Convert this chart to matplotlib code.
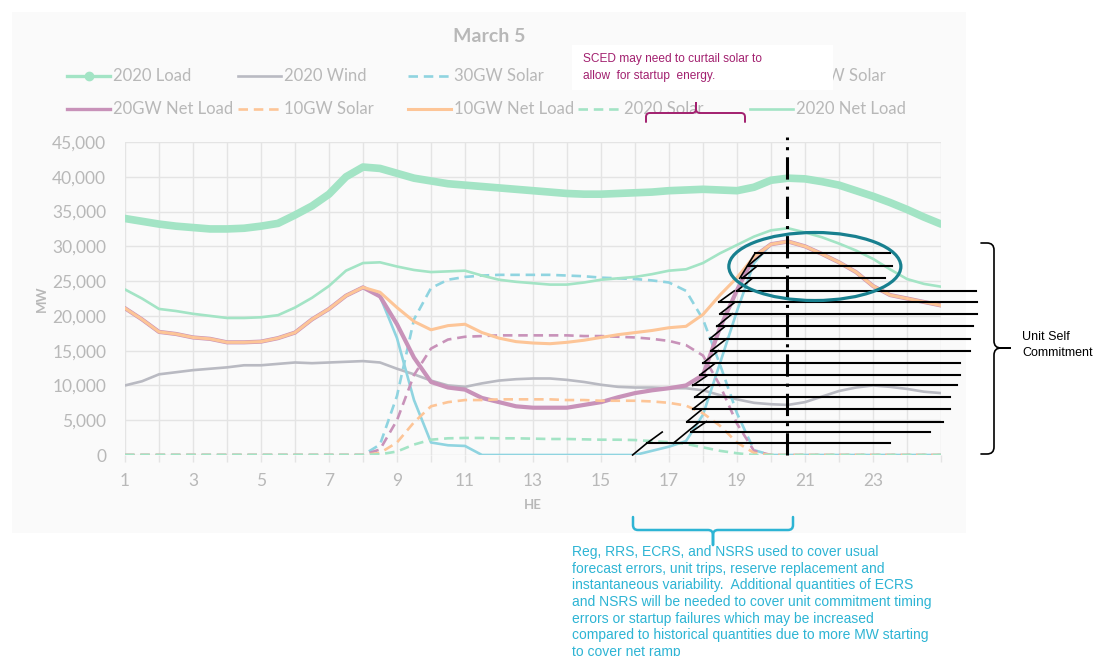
import numpy as np
import matplotlib
matplotlib.use("Agg")
import matplotlib.pyplot as plt
from matplotlib.lines import Line2D
from matplotlib.patches import Ellipse, Rectangle, PathPatch
from matplotlib.path import Path
from matplotlib.transforms import Affine2D
from matplotlib.ticker import FuncFormatter

# ------------------------------------------------------------
# Datos (MW cada media hora, HE 1..25)
# ------------------------------------------------------------
horas = np.arange(1, 25.01, 0.5)

load_2020 = [34000, 33600, 33200, 32900, 32700, 32500, 32500, 32600, 32900, 33300,
             34500, 35800, 37500, 40000, 41400, 41200, 40500, 39800, 39400, 39000,
             38800, 38600, 38400, 38200, 38000, 37800, 37600, 37500, 37500, 37600,
             37700, 37800, 38000, 38100, 38200, 38100, 38000, 38500, 39500, 39800,
             39700, 39300, 38800, 38000, 37200, 36300, 35300, 34200, 33200]

wind_2020 = [10000, 10600, 11600, 11900, 12200, 12400, 12600, 12900, 12900, 13100,
             13300, 13200, 13300, 13400, 13500, 13300, 12400, 11600, 10700, 10000,
             9800, 10300, 10700, 10900, 11000, 11000, 10800, 10500, 10100, 9800,
             9700, 9700, 9600, 9600, 9300, 8600, 8000, 7500, 7300, 7200,
             7600, 8400, 9200, 9700, 10000, 9800, 9500, 9100, 8900]

solar_30gw = [0] * 15 + [1500, 8500, 19500, 24000, 25200, 25600, 25800, 25900, 25900, 25900,
                         25900, 25800, 25700, 25500, 25400, 25300, 25100, 24800, 23600, 19500,
                         13000, 6000, 700] + [0] * 11

net_30gw = [21100, 19500, 17700, 17400, 16900, 16700, 16200, 16200, 16300, 16800,
            17600, 19500, 21000, 22900, 24100, 22800, 16800, 7900, 1800, 1400,
            1300, 0, 0, 0, 0, 0, 0, 0, 0, 0,
            0, 600, 1200, 2000, 5800, 13200, 20700, 27600, 30300, 30700,
            30000, 28900, 27700, 26300, 24300, 23000, 22500, 22000, 21500]

solar_20gw = [0] * 15 + [800, 5000, 11500, 15300, 16600, 17000, 17100, 17200, 17200, 17200,
                         17200, 17200, 17100, 17100, 17000, 16900, 16700, 16400, 15800, 14300,
                         10000, 4500, 600] + [0] * 11

net_20gw = [21100, 19500, 17700, 17400, 16900, 16700, 16200, 16200, 16300, 16800,
            17600, 19500, 21000, 22900, 24100, 22800, 18800, 14000, 10500, 9700,
            9400, 8200, 7600, 7000, 6800, 6800, 6800, 7200, 7600, 8300,
            8900, 9300, 9600, 10000, 11500, 18300, 23700, 28500, 30300, 30700,
            30000, 28900, 27700, 26300, 24300, 23000, 22500, 22000, 21500]

solar_10gw = [0] * 15 + [300, 1800, 4700, 7000, 7600, 7900, 7900, 8000, 8000, 8000,
                         8000, 7900, 7900, 7800, 7800, 7800, 7700, 7500, 7100, 6000,
                         4200, 1800, 300] + [0] * 11

net_10gw = [21100, 19500, 17700, 17400, 16900, 16700, 16200, 16200, 16300, 16800,
            17600, 19500, 21000, 22900, 24100, 23400, 21200, 19200, 18000, 18600,
            18800, 17600, 16800, 16300, 16100, 16000, 16200, 16500, 16900, 17300,
            17600, 17900, 18300, 18500, 20200, 23000, 25500, 28500, 30300, 30700,
            30000, 28900, 27700, 26300, 24300, 23000, 22500, 22000, 21500]

solar_2020 = [0] * 15 + [100, 500, 1500, 2200, 2400, 2450, 2450, 2400, 2400, 2350,
                         2300, 2300, 2250, 2200, 2200, 2150, 2000, 1850, 1600, 1100,
                         600, 250, 0] + [0] * 11

net_2020 = [23800, 22500, 21000, 20700, 20300, 20000, 19700, 19700, 19800, 20100,
            21200, 22600, 24300, 26500, 27600, 27700, 27100, 26600, 26300, 26400,
            26500, 25800, 25200, 24900, 24700, 24500, 24500, 24800, 25200, 25400,
            25600, 26000, 26500, 26700, 27600, 29000, 30200, 31400, 32300, 32600,
            32000, 31300, 30400, 29400, 28200, 26700, 25300, 24600, 24200]

# Bloques de auto-compromiso (nivel MW, hora inicio, hora fin)
commit_mw = [29000, 27200, 25400, 23600, 22000, 20300, 18500, 16700, 15000,
             13200, 11500, 10000, 8300, 6600, 4800, 3300, 1700]
commit_ini = [19.53, 19.32, 19.15, 19.0, 18.47, 18.5, 18.41, 18.2, 18.24,
              18.0, 17.91, 17.7, 17.76, 17.7, 17.53, 17.65, 16.35]
commit_fin = [23.5, 23.56, 23.35, 26.03, 26.06, 26.06, 25.94, 25.85, 25.85,
              25.56, 25.56, 25.47, 25.26, 25.26, 25.06, 24.68, 23.5]

hora_pico = 20.47

# ------------------------------------------------------------
# Estilos
# ------------------------------------------------------------
verde = "#a3e4c5"
gris_linea = "#b9bac2"
azul = "#8fd4e0"
morado = "#c892b9"
naranja = "#fdc597"
gris_txt = "#b8b8b8"
guion = (0, (3.6, 2.2))

plt.rcParams["font.family"] = ["Lato", "DejaVu Sans"]

W, H = 1099, 656
fig = plt.figure(figsize=(W / 100, H / 100), dpi=100)
fig.patch.set_facecolor("white")
pix = Affine2D().scale(1 / W, -1 / H).translate(0, 1) + fig.transFigure

fig.add_artist(Rectangle((12, 12), 954, 521, transform=pix,
                         facecolor="#fafafa", edgecolor="none", zorder=-1))

ax = fig.add_axes([125 / W, 1 - 455 / H, 816 / W, 313 / H])
ax.patch.set_alpha(0)

series = [
    ("2020 Load", load_2020, verde, "-", 5.5),
    ("2020 Wind", wind_2020, gris_linea, "-", 1.9),
    ("30GW Solar", solar_30gw, azul, guion, 1.9),
    ("30GW Net Load", net_30gw, azul, "-", 1.9),
    ("20GW Solar", solar_20gw, morado, guion, 1.9),
    ("20GW Net Load", net_20gw, morado, "-", 3.0),
    ("10GW Solar", solar_10gw, naranja, guion, 1.9),
    ("10GW Net Load", net_10gw, naranja, "-", 2.2),
    ("2020 Solar", solar_2020, verde, guion, 1.9),
    ("2020 Net Load", net_2020, verde, "-", 1.9),
]

for nombre, valores, color, estilo, grosor in series:
    ax.plot(horas, valores, color=color, linestyle=estilo, lw=grosor,
            solid_capstyle="round", solid_joinstyle="round")

ax.set_xlim(1, 25)
ax.set_ylim(0, 45000)
ax.set_xticks(range(1, 24, 2))
ax.set_xticks(list(range(2, 25, 2)) + [25], minor=True)
ax.set_yticks(range(0, 45001, 5000))
ax.yaxis.set_major_formatter(FuncFormatter(lambda v, p: f"{int(v):,}"))
ax.grid(True, which="both", axis="x", color="#e4e4e4", lw=1)
ax.grid(True, which="major", axis="y", color="#e4e4e4", lw=1)
ax.set_axisbelow(True)
for s in ax.spines.values():
    s.set_visible(False)
ax.tick_params(axis="x", which="both", length=5, width=1, color="#e4e4e4",
               pad=8, labelsize=12.5, labelcolor=gris_txt)
ax.tick_params(axis="y", length=0, pad=13.5, labelsize=12.5, labelcolor=gris_txt)

ax.text(0.5, -0.16, "HE", transform=ax.transAxes, ha="center", va="center",
        fontsize=9.5, fontweight="bold", color=gris_txt)
ax.text(-0.1017, 0.5, "MW", transform=ax.transAxes, ha="center", va="center",
        rotation=90, fontsize=9.5, fontweight="bold", color=gris_txt)

fig.text(489, 36, "March 5", transform=pix, ha="center", va="center",
         fontsize=14, fontweight="bold", color=gris_txt)

# Leyenda (filas como en Excel)
col_x = [67, 238, 408, 578, 750]
fila_y = [76, 109]
for i, (nombre, valores, color, estilo, grosor) in enumerate(series):
    fila, col = divmod(i, 5)
    x0, y0 = col_x[col], fila_y[fila]
    lw_ley = 2.4 if nombre == "2020 Load" else min(grosor, 2.4)
    ln = Line2D([x0, x0 + 21.5, x0 + 43], [y0, y0, y0], transform=pix,
                color=color, linestyle=estilo, lw=lw_ley, zorder=5)
    if nombre == "2020 Load":
        ln.set_marker("o")
        ln.set_markersize(6)
        ln.set_markevery([1])
    fig.add_artist(ln)
    fig.text(x0 + 46, y0, nombre, transform=pix, ha="left", va="center",
             fontsize=12, color=gris_txt, zorder=5)

# ------------------------------------------------------------
# Anotaciones
# ------------------------------------------------------------
ax.plot([hora_pico, hora_pico], [0, 45700], color="black", lw=2.2,
        linestyle=(0, (7.3, 2.3, 1, 2.3)), clip_on=False, zorder=9)

for i, (mw, a, b) in enumerate(zip(commit_mw, commit_ini, commit_fin)):
    ax.plot([a, b], [mw, mw], color="black", lw=1.5, clip_on=False, zorder=10)
    if i > 0:
        ax.plot([a, a + 0.45], [mw, commit_mw[i - 1]], color="black", lw=1.2,
                clip_on=False, zorder=10)
ax.plot([commit_ini[0], commit_ini[0] - 0.45], [commit_mw[0], commit_mw[2]],
        color="black", lw=1.2, clip_on=False, zorder=10)
ax.plot([commit_ini[-1] - 0.42, commit_ini[-1]], [0, commit_mw[-1]],
        color="black", lw=1.2, clip_on=False, zorder=10)
ax.plot([17.13, 17.9], [commit_mw[-1], commit_mw[-3]],
        color="black", lw=1.2, clip_on=False, zorder=10)

ax.add_patch(Ellipse((21.29, 27100), 5.06, 9780, fill=False, edgecolor="#18808f",
                     lw=2.3, clip_on=False, zorder=11))


def llave(a1, a2, base, patas, punta_a, punta_b, r, color, lw, vertical=False):
    s = 1 if patas > base else -1
    t = 1 if punta_b > base else -1
    pts = [(a1, patas), (a1, base + s * r), (a1, base), (a1 + r, base),
           (punta_a - r, base), (punta_a, base), (punta_a, base + t * r),
           (punta_a, punta_b), (punta_a, base + t * r), (punta_a, base),
           (punta_a + r, base), (a2 - r, base), (a2, base), (a2, base + s * r),
           (a2, patas)]
    if vertical:
        pts = [(q, p) for p, q in pts]
    codes = [Path.MOVETO, Path.LINETO, Path.CURVE3, Path.CURVE3, Path.LINETO,
             Path.CURVE3, Path.CURVE3, Path.LINETO, Path.LINETO, Path.CURVE3,
             Path.CURVE3, Path.LINETO, Path.CURVE3, Path.CURVE3, Path.LINETO]
    fig.add_artist(PathPatch(Path(pts, codes), transform=pix, fill=False,
                             edgecolor=color, lw=lw, zorder=8,
                             capstyle="round", joinstyle="round"))


# Recuadro SCED
fig.add_artist(Rectangle((572, 45), 261, 45, transform=pix, facecolor="white",
                         edgecolor="none", zorder=6))
purpura = "#a2206f"
for k, linea in enumerate(["SCED may need to curtail solar to",
                           "allow  for startup  energy."]):
    fig.text(583, 59 + 17 * k, linea, transform=pix, ha="left", va="center",
             fontsize=8.6, color=purpura, family="Liberation Sans", zorder=7)
llave(646, 745, 113, 122, 696, 103, 4, purpura, 1.4)

# Llave de reservas
cian = "#2db4d4"
llave(633, 793, 530, 517, 713, 545, 5, cian, 1.8)
texto_cian = ["Reg, RRS, ECRS, and NSRS used to cover usual",
              "forecast errors, unit trips, reserve replacement and",
              "instantaneous variability.  Additional quantities of ECRS",
              "and NSRS will be needed to cover unit commitment timing",
              "errors or startup failures which may be increased",
              "compared to historical quantities due to more MW starting",
              "to cover net ramp"]
for k, linea in enumerate(texto_cian):
    fig.text(572, 552 + 16.7 * k, linea, transform=pix, ha="left", va="center",
             fontsize=10, color=cian, family="Liberation Sans", zorder=7)

# Llave de auto-compromiso
llave(243, 454, 994, 981, 348, 1010, 7, "black", 1.2, vertical=True)
fig.text(1022, 337, "Unit Self", transform=pix, ha="left", va="center",
         fontsize=9, color="black", family="Liberation Sans")
fig.text(1022, 353, "Commitment", transform=pix, ha="left", va="center",
         fontsize=9, color="black", family="Liberation Sans")

fig.savefig("out.png", dpi=100)
